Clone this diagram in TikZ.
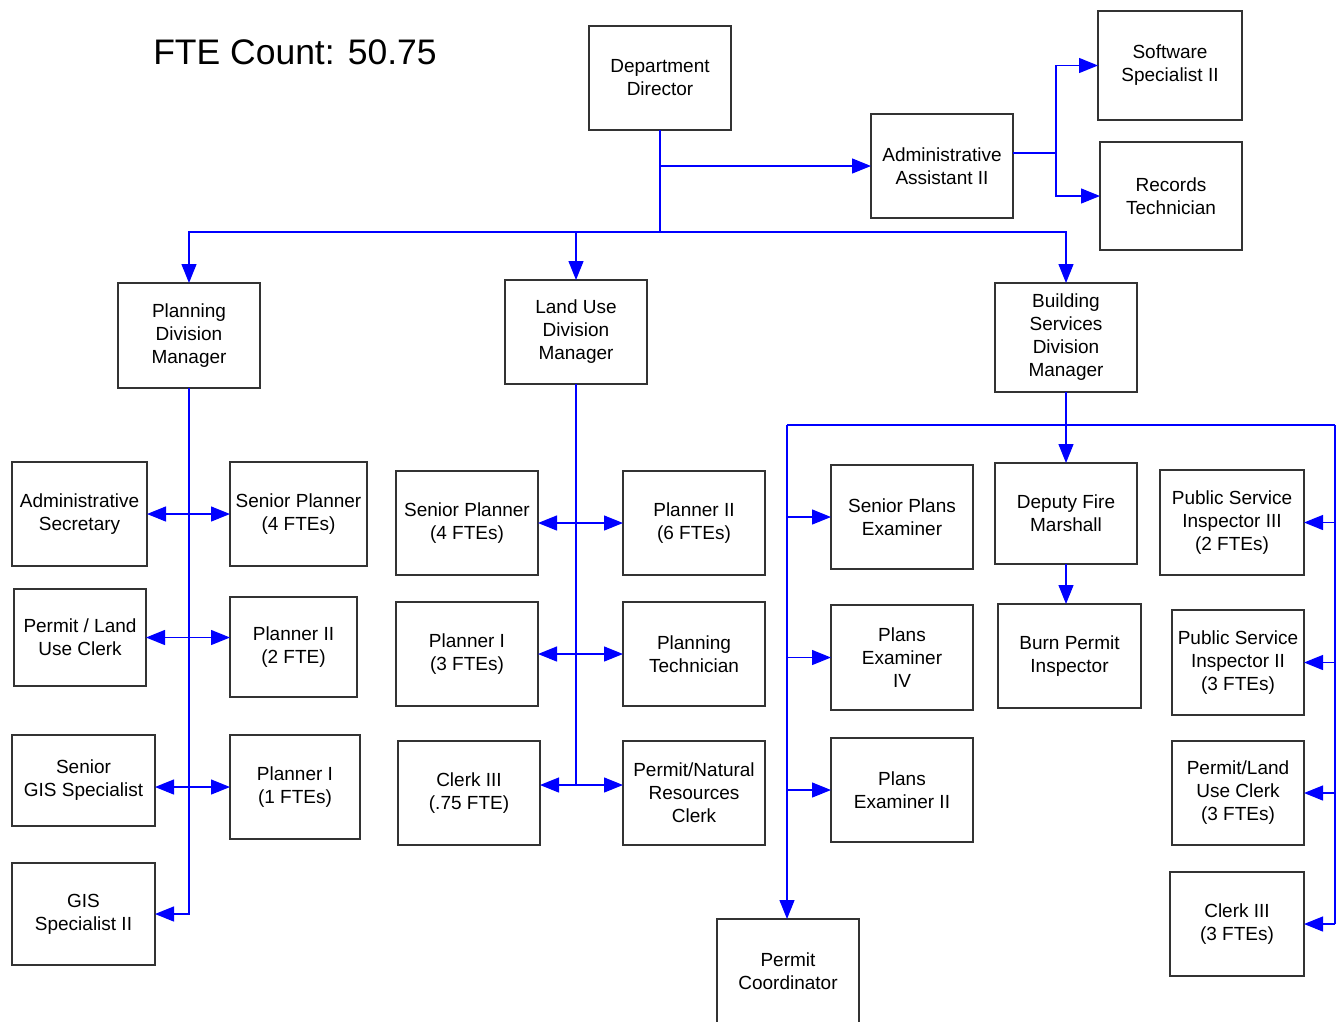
\documentclass[tikz,border=0pt]{standalone}
\usepackage{fontspec}
\setmainfont{Liberation Sans}
\usetikzlibrary{arrows.meta,calc}
\definecolor{boxc}{HTML}{333333}
\tikzset{
 box/.style={draw=boxc, line width=1.2pt, rectangle, inner sep=0pt, outer sep=0pt, align=center, text=black, font=\fontsize{19}{23}\selectfont},
 conn/.style={draw=blue, line width=1.3pt},
 tip/.tip={Triangle[length=19pt,width=15pt]},
 arr/.style={conn, -tip},
 darr/.style={conn, tip-tip},
}
\newcommand{\bx}[6]{\node[box, minimum width=#4pt-#2pt, minimum height=#5pt-#3pt] (#1) at ({(#2+#4)/2},{(#3+#5)/2}) {#6};}
\begin{document}
\begin{tikzpicture}[x=1pt,y=-1pt]
\useasboundingbox (0,0) rectangle (1340,1021);
\node[font=\fontsize{35.5}{40}\selectfont, text=black] (fte) at (295,52) {FTE Count: 50.75};
% top
\bx{dd}{589}{26}{731}{130}{Department\\Director}
\bx{aa2}{871}{114}{1013}{218}{Administrative\\Assistant II}
\bx{ss}{1098}{11}{1242}{120}{Software\\Specialist II}
\bx{rt}{1100}{142}{1242}{250}{Records\\Technician}
\bx{pdm}{118}{283}{260}{388}{Planning\\Division\\Manager}
\bx{lum}{505}{280}{647}{384}{Land Use\\Division\\Manager}
\bx{bdm}{995}{283}{1137}{392}{Building\\Services\\Division\\Manager}
% left column
\bx{adsec}{12}{462}{147}{566}{Administrative\\Secretary}
\bx{spa}{230}{462}{367}{566}{Senior Planner\\(4 FTEs)}
\bx{plc}{14}{589}{146}{686}{Permit / Land\\Use Clerk}
\bx{p2a}{230}{597}{357}{697}{Planner II\\(2 FTE)}
\bx{sgis}{12}{735}{155}{826}{Senior\\GIS Specialist}
\bx{p1a}{230}{735}{360}{839}{Planner I\\(1 FTEs)}
\bx{gis2}{12}{863}{155}{965}{GIS\\Specialist II}
% middle column
\bx{spb}{396}{471}{538}{575}{Senior Planner\\(4 FTEs)}
\bx{p2b}{623}{471}{765}{575}{Planner II\\(6 FTEs)}
\bx{p1b}{396}{602}{538}{706}{Planner I\\(3 FTEs)}
\bx{ptech}{623}{602}{765}{706}{Planning\\Technician}
\bx{c3a}{398}{741}{540}{845}{Clerk III\\(.75 FTE)}
\bx{pnr}{623}{741}{765}{845}{Permit/Natural\\Resources\\Clerk}
% right column
\bx{spe}{831}{465}{973}{569}{Senior Plans\\Examiner}
\bx{dfm}{995}{463}{1137}{564}{Deputy Fire\\Marshall}
\bx{psi3}{1160}{470}{1304}{575}{Public Service\\Inspector III\\(2 FTEs)}
\bx{pe4}{831}{605}{973}{710}{Plans\\Examiner\\IV}
\bx{bpi}{998}{604}{1141}{708}{Burn Permit\\Inspector}
\bx{psi2}{1172}{610}{1304}{715}{Public Service\\Inspector II\\(3 FTEs)}
\bx{pe2}{831}{738}{973}{842}{Plans\\Examiner II}
\bx{plu}{1172}{741}{1304}{845}{Permit/Land\\Use Clerk\\(3 FTEs)}
\bx{c3b}{1170}{872}{1304}{976}{Clerk III\\(3 FTEs)}
\bx{pc}{717}{919}{859}{1024}{Permit\\Coordinator}
% coordinates
\coordinate (hub) at (660,232);
\coordinate (aj) at (1056,153);
\coordinate (lumend) at (576,785);
\coordinate (bl) at (787,425);
\coordinate (br) at (1335,425);
% top connectors
\draw[conn] (dd.south) -- (hub);
\draw[arr] (dd.south |- aa2.west) -- (aa2.west);
\draw[arr] (hub) -| (pdm.north);
\draw[arr] (hub) -| (lum.north);
\draw[arr] (hub) -| (bdm.north);
\draw[conn] (aa2.east |- aj) -- (aj);
\draw[arr] (aj) |- (ss.west);
\draw[arr] (aj) |- (rt.west);
% planning division
\draw[arr] (pdm.south) |- (gis2.east);
\draw[darr] (adsec.east) -- (spa.west);
\draw[darr] (plc.east) -- (plc.east -| p2a.west);
\draw[darr] (p1a.west -| sgis.east) -- (p1a.west);
% land use division
\draw[conn] (lum.south) -- (lumend);
\draw[darr] (spb.east) -- (p2b.west);
\draw[darr] (p1b.east) -- (ptech.west);
\draw[darr] (c3a.east |- lumend) -- (pnr.west |- lumend);
% building services
\draw[arr] (bdm.south) -- (dfm.north);
\draw[arr] (dfm.south) -- (dfm.south |- bpi.north);
\draw[conn] (bl) -- (br);
\draw[arr] (bl) -- (bl |- pc.north);
\draw[arr] (bl |- spe.west) -- (spe.west);
\draw[arr] (bl |- pe4.west) -- (pe4.west);
\draw[arr] (bl |- pe2.west) -- (pe2.west);
\draw[conn] (br) -- ($(br |- c3b.east)$);
\draw[arr] (br |- psi3.east) -- (psi3.east);
\draw[arr] (br |- psi2.east) -- (psi2.east);
\draw[arr] (br |- plu.east) -- (plu.east);
\draw[arr] (br |- c3b.east) -- (c3b.east);
\end{tikzpicture}
\end{document}
